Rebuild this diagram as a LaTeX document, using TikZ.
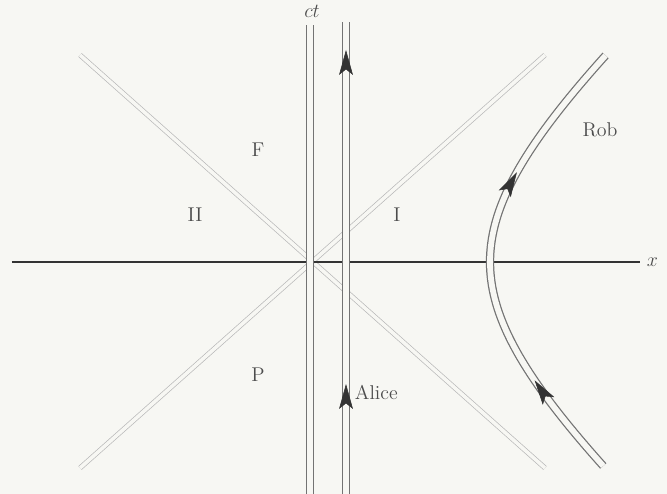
\documentclass[tikz,border=0pt]{standalone}
\usetikzlibrary{arrows.meta}
\definecolor{paper}{RGB}{247,247,243}
\begin{document}
\begin{tikzpicture}[x=1in,y=1in,
  worldline/.style={draw=black!55, line width=0.9pt, double=paper, double distance=4.2pt},
  lightcone/.style={draw=black!28, line width=0.5pt, double=paper, double distance=2.6pt},
  region/.style={font=\Large, text=black!70},
  flowtip/.style={draw=black!80, line width=0.4pt, -{Stealth[length=18pt,width=10pt,inset=4pt]}}]
\fill[paper] (0,0) rectangle (6.67,4.94);
\useasboundingbox (0,0) rectangle (6.67,4.94);
% light cone
\coordinate (O) at (3.10,2.32);
\coordinate (c1) at (0.80,4.39);
\coordinate (c2) at (5.45,0.26);
\coordinate (c3) at (5.45,4.39);
\coordinate (c4) at (0.80,0.26);
\draw[lightcone] (c1) -- (c2);
\draw[lightcone] (c3) -- (c4);
% axes
\coordinate (xL) at (0.12,2.32);
\coordinate (xR) at (6.40,2.32);
\coordinate (ctB) at (3.10,0);
\coordinate (ctT) at (3.10,4.69);
\draw[black!80, line width=1.2pt] (xL) -- (xR);
\draw[worldline] (ctB) -- (ctT);
\node[font=\Large, text=black!70, anchor=west] (xlbl) at (6.42,2.32) {$x$};
\node[font=\Large, text=black!70] (ctlbl) at (3.12,4.83) {$ct$};
% Alice
\coordinate (aB) at (3.46,0);
\coordinate (aT) at (3.46,4.72);
\draw[worldline] (aB) -- (aT);
\coordinate (a1s) at (3.46,1.00);
\coordinate (a1) at (3.46,1.10);
\coordinate (a2s) at (3.46,4.34);
\coordinate (a2) at (3.46,4.44);
\draw[flowtip] (a1s) -- (a1);
\draw[flowtip] (a2s) -- (a2);
\node[region, anchor=west] (alice) at (3.50,1.02) {Alice};
% Rob
\draw[worldline] plot[domain=-1.07:1.08, samples=60, smooth, variable=\u]
  ({3.10+1.80*cosh(\u)}, {2.32+1.586*sinh(\u)});
\coordinate (r1s) at (5.402,1.054);
\coordinate (r1) at (5.346,1.137);
\coordinate (r2s) at (5.120,3.132);
\coordinate (r2) at (5.169,3.219);
\draw[flowtip] (r1s) -- (r1);
\draw[flowtip] (r2s) -- (r2);
\node[region] (rob) at (6.00,3.64) {Rob};
% regions
\node[region] (F) at (2.58,3.44) {F};
\node[region] (P) at (2.58,1.19) {P};
\node[region] (II) at (1.95,2.79) {II};
\node[region] (I) at (3.97,2.79) {I};
\end{tikzpicture}
\end{document}
